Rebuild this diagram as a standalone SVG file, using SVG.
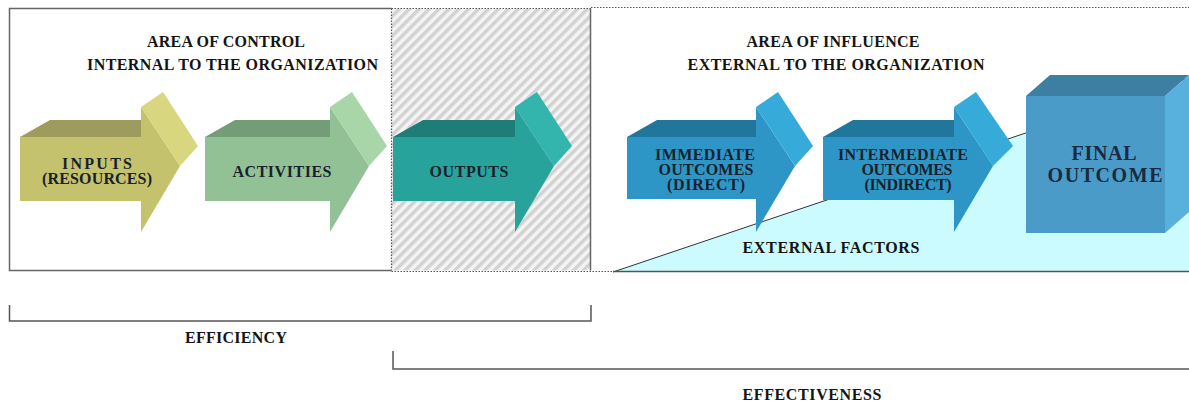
<svg xmlns="http://www.w3.org/2000/svg" width="1189" height="402" viewBox="0 0 1189 402">
<style>
text{font-family:"Liberation Serif","Times New Roman",serif;font-weight:bold;fill:#141414;text-anchor:middle;font-size:16px}
.lbl{fill:#1a1f2c}
.big{font-size:20px;fill:#1b2a40}
.frame{fill:none;stroke:#666;stroke-width:1.5}
.dot{fill:none;stroke:#555;stroke-width:1.2;stroke-dasharray:1.5 1.5}
.br{fill:none;stroke:#555;stroke-width:1.5}
</style>
<defs>
<pattern id="hatch" patternUnits="userSpaceOnUse" width="7" height="7" patternTransform="rotate(45)">
<rect width="7" height="7" fill="#f4f4f4"/>
<rect width="3.5" height="7" fill="#d2d2d2"/>
</pattern>
</defs>
<rect x="0" y="0" width="1189" height="402" fill="#ffffff"/>
<g id="area-control">
<rect x="391.5" y="8.5" width="199" height="262" fill="url(#hatch)"/>
<path class="frame" d="M391.5,8.5 H9.5 V270.5 H391.5"/>
<path class="frame" d="M590.5,8.5 V270.5"/>
<path class="dot" d="M391.5,8.5 V270.5 M391.5,8.5 H592 M591,7.5 H1189 M391.5,271.5 H613"/>
<text x="226" y="47" textLength="158" lengthAdjust="spacing">AREA OF CONTROL</text>
<text x="232.5" y="70" textLength="291" lengthAdjust="spacing">INTERNAL TO THE ORGANIZATION</text>
</g>
<g id="area-influence">
<polygon points="613,272 1189,78 1189,272" fill="#ccfbff"/>
<line x1="613" y1="272" x2="1189" y2="78" stroke="#333" stroke-width="1"/>
<line x1="613" y1="271.5" x2="1189" y2="271.5" stroke="#555" stroke-width="1.5"/>
<text x="833" y="47" textLength="173" lengthAdjust="spacing">AREA OF INFLUENCE</text>
<text x="836" y="70" textLength="297" lengthAdjust="spacing">EXTERNAL TO THE ORGANIZATION</text>
<text x="831" y="253" textLength="177" lengthAdjust="spacing">EXTERNAL FACTORS</text>
</g>
<g id="inputs">
<polygon points="20,137 50,120 141,120 141,137" fill="#9e9c5c"/>
<rect x="20" y="137" width="121" height="64" fill="#c4c26d"/>
<polygon points="141,107 180,166 141,232" fill="#c4c26d"/>
<polygon points="141,107 163,92 198,146 180,166" fill="#d8d67f"/>
<text class="lbl" x="97" y="169" textLength="70" lengthAdjust="spacing">INPUTS</text>
<text class="lbl" x="97" y="184" textLength="110" lengthAdjust="spacing">(RESOURCES)</text>
</g>
<g id="activities">
<polygon points="205,137 235,120 330,120 330,137" fill="#739c77"/>
<rect x="205" y="137" width="125" height="64" fill="#93c196"/>
<polygon points="330,107 369,166 330,232" fill="#93c196"/>
<polygon points="330,107 352,92 387,146 369,166" fill="#a8d6a8"/>
<text class="lbl" x="282" y="177" textLength="99" lengthAdjust="spacing">ACTIVITIES</text>
</g>
<g id="outputs">
<polygon points="393,137 423,120 515,120 515,137" fill="#1f7d77"/>
<rect x="393" y="137" width="122" height="64" fill="#28a39b"/>
<polygon points="515,107 554,166 515,232" fill="#28a39b"/>
<polygon points="515,107 537,92 572,146 554,166" fill="#33b4ac"/>
<text class="lbl" x="469" y="177" textLength="79" lengthAdjust="spacing">OUTPUTS</text>
</g>
<g id="immediate">
<polygon points="627,137 657,120 756,120 756,137" fill="#20769b"/>
<rect x="627" y="137" width="129" height="62" fill="#2d96c6"/>
<polygon points="756,107 795,166 756,232" fill="#2d96c6"/>
<polygon points="756,107 778,92 813,146 795,166" fill="#36aad9"/>
<text class="lbl" x="705" y="160" textLength="100" lengthAdjust="spacing">IMMEDIATE</text>
<text class="lbl" x="706" y="175" textLength="95" lengthAdjust="spacing">OUTCOMES</text>
<text class="lbl" x="706" y="190" textLength="78" lengthAdjust="spacing">(DIRECT)</text>
</g>
<g id="intermediate">
<polygon points="823,137 853,120 954,120 954,137" fill="#20769b"/>
<rect x="823" y="137" width="131" height="63" fill="#2d96c6"/>
<polygon points="954,107 993,166 954,232" fill="#2d96c6"/>
<polygon points="954,107 976,92 1013,146 993,166" fill="#36aad9"/>
<text class="lbl" x="903" y="160" textLength="130" lengthAdjust="spacing">INTERMEDIATE</text>
<text class="lbl" x="907" y="175" textLength="91" lengthAdjust="spacing">OUTCOMES</text>
<text class="lbl" x="908" y="190" textLength="87" lengthAdjust="spacing">(INDIRECT)</text>
</g>
<g id="final-outcome">
<polygon points="1026,96 1050,75 1189,75 1165,96" fill="#3c7fa3"/>
<polygon points="1165,96 1189,75 1189,212 1165,233" fill="#58b1dc"/>
<rect x="1026" y="96" width="139" height="137" fill="#4a9bc8"/>
<text class="big" x="1104" y="160" textLength="65" lengthAdjust="spacing">FINAL</text>
<text class="big" x="1105" y="182" textLength="115" lengthAdjust="spacing">OUTCOME</text>
</g>
<g id="connectors">
<path class="br" d="M9.5,305 V321 H591 V305"/>
<path class="br" d="M393,351 V369 H1189"/>
</g>
<g id="measures">
<text x="236" y="343" textLength="102" lengthAdjust="spacing">EFFICIENCY</text>
<text x="812" y="400" textLength="139" lengthAdjust="spacing">EFFECTIVENESS</text>
</g>
</svg>
